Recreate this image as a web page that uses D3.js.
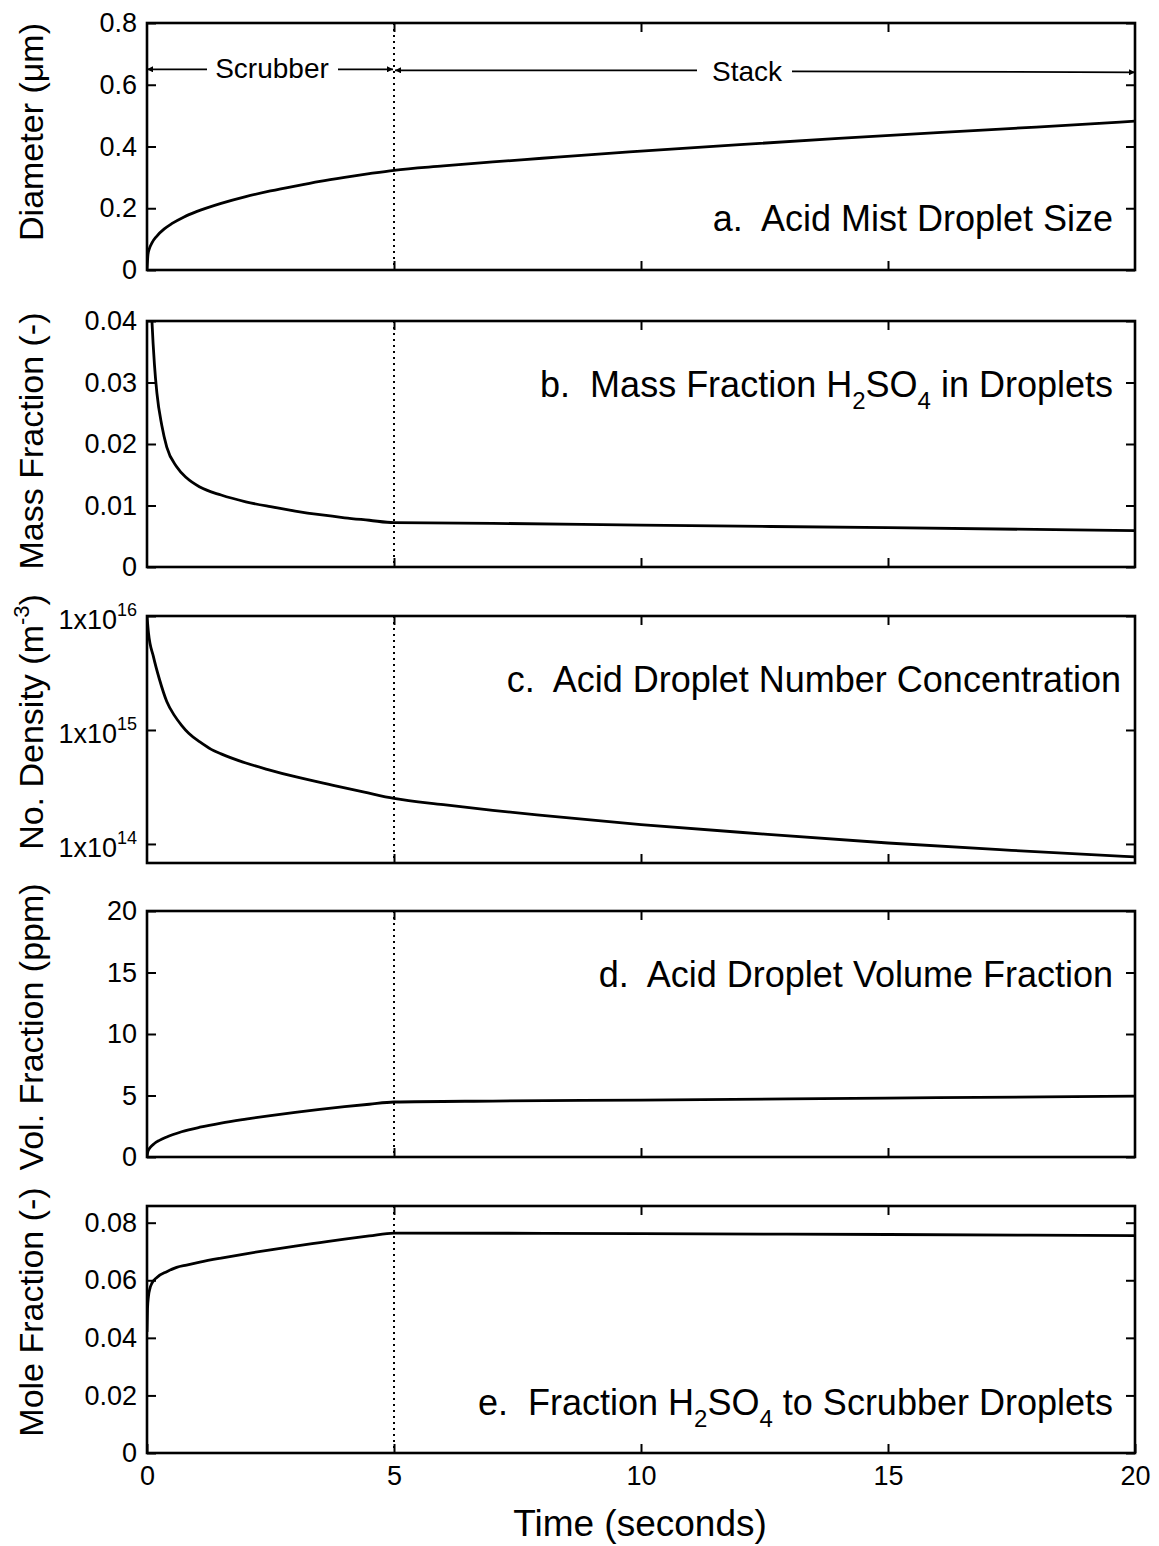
<!DOCTYPE html>
<html><head><meta charset="utf-8">
<script src="https://cdn.jsdelivr.net/npm/d3@7"></script>
<style>
html,body{margin:0;padding:0;background:#fff;}
svg text{font-family:"Liberation Sans",Arial,Helvetica,sans-serif;fill:#000;white-space:pre;}
</style></head>
<body><svg id="chart" width="1159" height="1546"></svg>
<script>
// ---- data ----
const xTicks = [0, 5, 10, 15, 20];
const scrubberEnd = 5;

const timeA = [0, 0.02, 0.05, 0.1, 0.2, 0.35, 0.5, 0.75, 1, 1.5, 2, 2.5, 3, 3.5, 4, 4.5, 5, 6, 7, 8, 9, 10, 12, 14, 16, 18, 20];
const diameter = [0, 0.051, 0.070, 0.088, 0.110, 0.133, 0.150, 0.172, 0.189, 0.216, 0.238, 0.256, 0.272, 0.287, 0.300, 0.312, 0.323, 0.337, 0.350, 0.362, 0.374, 0.385, 0.406, 0.426, 0.445, 0.463, 0.482];
const ticksA = [0, 0.2, 0.4, 0.6, 0.8];

const timeB = [0.03, 0.06, 0.1, 0.15, 0.2, 0.3, 0.4, 0.6, 0.8, 1.07, 1.5, 2, 2.5, 3, 3.5, 4, 4.5, 5, 7, 10, 15, 20];
const massFraction = [0.060, 0.048, 0.040, 0.033, 0.0283, 0.023, 0.0195, 0.0163, 0.0145, 0.0130, 0.0117, 0.0106, 0.0098, 0.0091, 0.0085, 0.0080, 0.0076, 0.0072, 0.0071, 0.0068, 0.0064, 0.0059];
const ticksB = [0, 0.01, 0.02, 0.03, 0.04];

const timeC = [0, 0.03, 0.13, 0.25, 0.4, 0.55, 0.7, 0.85, 1.07, 1.3, 1.5, 2, 2.43, 3, 3.77, 4.4, 5, 6, 7, 8, 10, 12.5, 15, 17.5, 20];
const numberDensity = [1e16, 7.1e15, 4.4e15, 2.8e15, 1.78e15, 1.35e15, 1.1e15, 9.3e14, 7.85e14, 6.76e14, 6.17e14, 5.13e14, 4.52e14, 3.89e14, 3.27e14, 2.85e14, 2.51e14, 2.21e14, 1.97e14, 1.78e14, 1.48e14, 1.22e14, 1.02e14, 8.8e13, 7.7e13];
const ticksC = [1e14, 1e15, 1e16];

const timeD = [0, 0.02, 0.06, 0.15, 0.25, 0.4, 0.7, 1.07, 1.5, 2, 2.5, 3, 3.5, 4, 4.5, 5, 7, 10, 13, 16, 20];
const volFraction = [0, 0.48, 0.75, 1.1, 1.35, 1.63, 2.05, 2.42, 2.76, 3.08, 3.37, 3.63, 3.87, 4.09, 4.29, 4.47, 4.55, 4.63, 4.72, 4.82, 4.95];
const ticksD = [0, 5, 10, 15, 20];

const timeE = [0, 0.01, 0.03, 0.06, 0.1, 0.2, 0.4, 0.6, 0.8, 1.07, 1.5, 2, 2.5, 3, 3.5, 4, 4.5, 5, 10, 15, 20];
const moleFraction = [0.042, 0.050, 0.0545, 0.0572, 0.0590, 0.0610, 0.0630, 0.0645, 0.0653, 0.0663, 0.0677, 0.0692, 0.0706, 0.0719, 0.0731, 0.0743, 0.0754, 0.0764, 0.0762, 0.0759, 0.0755];
const ticksE = [0, 0.02, 0.04, 0.06, 0.08];

const xTitle = "Time (seconds)";

// ---- layout ----
const svg = d3.select("#chart");
const x = d3.scaleLinear().domain([0, 20]).range([147, 1135]);
const TICK = 9;
const TICKFONT = 27;

const panels = [
  {id:"a", top:23, bottom:270, domain:[0,0.8], log:false, t:timeA, v:diameter, ticks:ticksA, fmt:d=>d===0?"0":d3.format(".1f")(d),
   title:[{s:"Diameter (\u03bcm)"}], titleY:132,
   label:[{s:"a.  Acid Mist Droplet Size"}], labelX:1113, labelY:231},
  {id:"b", top:321, bottom:567, domain:[0,0.04], log:false, t:timeB, v:massFraction, ticks:ticksB, fmt:d=>d===0?"0":d3.format(".2f")(d),
   title:[{s:"Mass Fraction (-)"}], titleY:441,
   label:[{s:"b.  Mass Fraction H"},{s:"2",sub:1},{s:"SO"},{s:"4",sub:1},{s:" in Droplets"}], labelX:1113, labelY:397},
  {id:"c", top:616, bottom:863, domain:[Math.pow(10,13.833),1e16], log:true, t:timeC, v:numberDensity, ticks:ticksC,
   title:[{s:"No. Density (m"},{s:"-3",sup:1},{s:")"}], titleY:722,
   label:[{s:"c.  Acid Droplet Number Concentration"}], labelX:1121, labelY:692},
  {id:"d", top:911, bottom:1157, domain:[0,20], log:false, t:timeD, v:volFraction, ticks:ticksD, fmt:d=>String(d),
   title:[{s:"Vol. Fraction (ppm)"}], titleY:1027,
   label:[{s:"d.  Acid Droplet Volume Fraction"}], labelX:1113, labelY:987},
  {id:"e", top:1206, bottom:1453, domain:[0,0.0858], log:false, t:timeE, v:moleFraction, ticks:ticksE, fmt:d=>d===0?"0":d3.format(".2f")(d),
   title:[{s:"Mole Fraction (-)"}], titleY:1312,
   label:[{s:"e.  Fraction H"},{s:"2",sub:1},{s:"SO"},{s:"4",sub:1},{s:" to Scrubber Droplets"}], labelX:1113, labelY:1415}
];

// text with sub/superscripts; baseline shifts carried onto the next glyph-bearing tspan
function richText(sel, parts, subSize, shift){
  let offset = 0; // current baseline offset
  parts.forEach(p=>{
    let target = p.sub ? shift : (p.sup ? -shift : 0);
    const ts = sel.append("tspan").attr("dy", target - offset).text(p.s);
    if(p.sub || p.sup) ts.style("font-size", subSize+"px");
    offset = target;
  });
}

panels.forEach((p, i)=>{
  const y = (p.log ? d3.scaleLog() : d3.scaleLinear()).domain(p.domain).range([p.bottom, p.top]);
  p.y = y;
  const g = svg.append("g");

  const clipId = "clip-"+p.id;
  svg.append("clipPath").attr("id", clipId).append("rect")
    .attr("x", x(0)).attr("y", p.top).attr("width", x(20)-x(0)).attr("height", p.bottom-p.top);

  // left axis
  const left = d3.axisLeft(y).tickValues(p.ticks).tickSize(-TICK).tickPadding(10);
  if(!p.log) left.tickFormat(p.fmt); else left.tickFormat("");
  const gl = g.append("g").attr("transform", `translate(${x(0)},0)`).call(left);
  gl.select(".domain").remove();
  gl.selectAll("line").attr("stroke","#000").attr("stroke-width",2);
  gl.selectAll("text").style("font-size",TICKFONT+"px").attr("fill","#000");
  if(p.log){
    gl.selectAll(".tick text").each(function(d){
      const t = d3.select(this);
      t.text(null);
      t.append("tspan").text("1x10");
      t.append("tspan").attr("dy",-13).style("font-size","18px").text(String(Math.round(Math.log10(d))));
    });
    gl.selectAll(".tick text").attr("dy","0.45em");
  }

  // right axis
  const right = d3.axisRight(y).tickValues(p.ticks).tickSize(-TICK).tickFormat("");
  const gr = g.append("g").attr("transform", `translate(${x(20)},0)`).call(right);
  gr.select(".domain").remove();
  gr.selectAll("line").attr("stroke","#000").attr("stroke-width",2);

  // top ticks
  const top = d3.axisTop(x).tickValues([5,10,15]).tickSize(-TICK).tickFormat("");
  const gt = g.append("g").attr("transform", `translate(0,${p.top})`).call(top);
  gt.select(".domain").remove();
  gt.selectAll("line").attr("stroke","#000").attr("stroke-width",2);

  // bottom axis
  const last = i === panels.length-1;
  const bot = d3.axisBottom(x).tickValues(last ? xTicks : [5,10,15]).tickSize(-TICK).tickPadding(13);
  if(!last) bot.tickFormat("");
  const gb = g.append("g").attr("transform", `translate(0,${p.bottom})`).call(bot);
  gb.select(".domain").remove();
  gb.selectAll("line").attr("stroke","#000").attr("stroke-width",2);
  gb.selectAll("text").style("font-size",TICKFONT+"px").attr("fill","#000");

  // dotted separator
  g.append("line").attr("x1", x(scrubberEnd)).attr("x2", x(scrubberEnd))
    .attr("y1", p.top).attr("y2", p.bottom)
    .attr("stroke","#000").attr("stroke-width",2).attr("stroke-dasharray","2,4");

  // curve
  const data = p.t.map((tt,k)=>[tt, p.v[k]]);
  const line = d3.line().x(d=>x(d[0])).y(d=>y(d[1])).curve(d3.curveMonotoneX);
  g.append("path").datum(data).attr("d", line).attr("clip-path", `url(#${clipId})`)
    .attr("fill","none").attr("stroke","#000").attr("stroke-width",2.8).attr("stroke-linejoin","round");

  // frame
  g.append("rect").attr("x", x(0)).attr("y", p.top).attr("width", x(20)-x(0)).attr("height", p.bottom-p.top)
    .attr("fill","none").attr("stroke","#000").attr("stroke-width",2.6);

  // y title
  const tt = g.append("text").attr("transform", `translate(43,${p.titleY}) rotate(-90)`)
    .attr("text-anchor","middle").style("font-size","34px");
  richText(tt, p.title, 22, 14);

  // panel label
  const lt = g.append("text").attr("x", p.labelX).attr("y", p.labelY).attr("text-anchor","end").style("font-size","36px");
  richText(lt, p.label, 24, 12);
});

// ---- scrubber / stack annotations on panel a ----
const pa = panels[0];
const ya = pa.y(0.65);
const defs = svg.append("defs");
defs.append("marker").attr("id","arr").attr("viewBox","0 0 10 10").attr("refX",10).attr("refY",5)
  .attr("markerWidth",9).attr("markerHeight",6).attr("markerUnits","userSpaceOnUse").attr("orient","auto")
  .append("path").attr("d","M0,0L10,5L0,10Z").attr("fill","#000");

const ann = svg.append("g");
function arrow(x1, y1, x2, y2){
  ann.append("line").attr("x1",x1).attr("y1",y1).attr("x2",x2).attr("y2",y2)
    .attr("stroke","#000").attr("stroke-width",1.8).attr("marker-end","url(#arr)");
}
ann.append("text").attr("x", 272).attr("y", ya+9).attr("text-anchor","middle").style("font-size","28px").text("Scrubber");
arrow(207, ya, x(0), ya);
arrow(338, ya, x(scrubberEnd)-1, ya);
ann.append("text").attr("x", 747).attr("y", ya+12).attr("text-anchor","middle").style("font-size","28px").text("Stack");
arrow(697, ya+1, x(scrubberEnd)+1, ya+1);
arrow(792, ya+2, x(20), ya+3);

// x title
svg.append("text").attr("x", 640).attr("y", 1536).attr("text-anchor","middle").style("font-size","37px").text(xTitle);
</script></body></html>
